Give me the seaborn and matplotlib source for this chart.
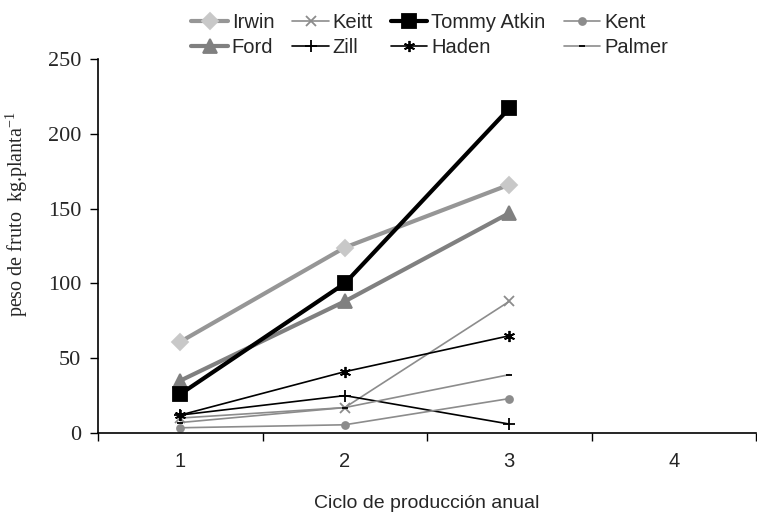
import matplotlib
matplotlib.use("Agg")
import matplotlib.pyplot as plt
import seaborn as sns
import pandas as pd
import numpy as np

ciclos = [1, 2, 3]
categorias = ["1", "2", "3", "4"]
irwin = [61, 124, 166]
ford = [35, 88, 147]
tommy = [26, 100, 217]
keitt = [10, 17, 88]
zill = [12, 25, 6]
haden = [12, 41, 65]
kent = [3.5, 5.5, 23]
palmer = [7, 17, 39]

series = [
    ("Irwin", irwin, dict(color="#969696", lw=3, marker="D", ms=8, mfc="#c8c8c8", mec="#c8c8c8")),
    ("Ford", ford, dict(color="#808080", lw=3, marker="^", ms=10, mfc="#808080", mec="#808080")),
    ("Keitt", keitt, dict(color="#8c8c8c", lw=1.2, marker="x", ms=7, mfc="#8c8c8c", mec="#8c8c8c")),
    ("Zill", zill, dict(color="black", lw=1.2, marker="+", ms=9, mfc="black", mec="black")),
    ("Tommy Atkin", tommy, dict(color="black", lw=3, marker="s", ms=10, mfc="black", mec="black")),
    ("Haden", haden, dict(color="black", lw=1.2, marker=(6, 2, 0), ms=8, mfc="black", mec="black")),
    ("Kent", kent, dict(color="#8c8c8c", lw=1.2, marker="o", ms=5, mfc="#8c8c8c", mec="#8c8c8c")),
    ("Palmer", palmer, dict(color="#8c8c8c", lw=1.2, marker="_", ms=5, mfc="black", mec="black")),
]

sns.set_style("ticks")
plt.rcParams["font.family"] = ["Liberation Sans", "DejaVu Sans"]

fig = plt.figure(figsize=(7.57, 5.15), dpi=100)
ax = fig.add_axes([0.1295, 0.1592, 0.8692, 0.7262])

for name, vals, st in series:
    df = pd.DataFrame({"x": ciclos, "y": vals})
    sns.lineplot(data=df, x="x", y="y", ax=ax, label=name, color=st["color"],
                 linewidth=st["lw"], marker=st["marker"], markersize=st["ms"],
                 markerfacecolor=st["mfc"], markeredgecolor=st["mec"],
                 markeredgewidth=1.3, legend=True)

ax.set_xlim(0.5, 4.5)
ax.set_ylim(0, 250)
ax.set_xticks([1, 2, 3, 4])
ax.set_xticklabels(categorias, fontsize=14.5, fontfamily="Liberation Sans")
ax.set_xticks([0.5, 1.5, 2.5, 3.5, 4.5], minor=True)
ax.tick_params(axis="x", which="major", length=0, pad=14)
ax.tick_params(axis="x", which="minor", length=6, width=1, direction="out", color="black")
ax.set_yticks([0, 50, 100, 150, 200, 250])
ax.tick_params(axis="y", length=6, width=1, direction="out", color="black", pad=6)
for lab in ax.get_yticklabels():
    lab.set_fontfamily("Liberation Serif")
    lab.set_fontsize(16)

ax.set_xlabel("Ciclo de producción anual", fontsize=14, fontfamily="Liberation Sans", labelpad=17)
ax.set_ylabel(r"peso de fruto  kg.planta$^{\mathregular{-1}}$", fontsize=14.5,
              fontfamily="Liberation Serif")
ax.yaxis.set_label_coords(-0.103, 0.585)

for s in ["top", "right"]:
    ax.spines[s].set_visible(False)
for s in ["left", "bottom"]:
    ax.spines[s].set_color("black")
    ax.spines[s].set_linewidth(1.2)

h, l = ax.get_legend_handles_labels()
if ax.get_legend():
    ax.get_legend().remove()
leg = fig.legend(h, l, ncol=4, loc="upper left", bbox_to_anchor=(0.229, 1.01), frameon=False,
                 handlelength=1.8, columnspacing=0.9, handletextpad=0.2,
                 labelspacing=0.3, prop={"family": "Liberation Sans", "size": 14.5})

fig.savefig("out.png", dpi=100)
